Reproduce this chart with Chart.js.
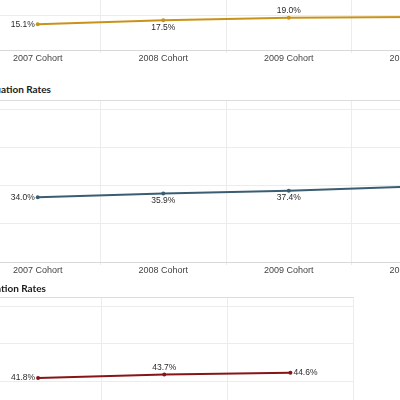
<!DOCTYPE html>
<html>
<head>
<meta charset="utf-8">
<script src="https://cdn.jsdelivr.net/npm/chart.js@4"></script>
<style>
    html, body {
        margin: 0;
        padding: 0;
        background: #ffffff;
        width: 400px;
        height: 400px;
        overflow: hidden;
        position: relative;
    }
    canvas {
        position: absolute;
    }
    .panel-title {
        position: absolute;
        transform: translate(-100%, -50%);
        white-space: nowrap;
        font: bold 10px Lato, "Liberation Sans", sans-serif;
        color: #1a1a1a;
    }
</style>
</head>
<body>
<div class="panel-title" style="left: -20px; top: -110px;">Four-Year Graduation Rates</div>
<canvas id="fourYear" width="530" height="170" style="left: -40px; top: -100px;"></canvas>

<div class="panel-title" style="left: 51px; top: 89px;">Five-Year Graduation Rates</div>
<canvas id="fiveYear" width="530" height="190" style="left: -40px; top: 95px;"></canvas>

<div class="panel-title" style="left: 46px; top: 288px;">Six-Year Graduation Rates</div>
<canvas id="sixYear" width="400" height="190" style="left: -40px; top: 292px;"></canvas>

<script>
"use strict";

//

const cohorts = ["2007 Cohort", "2008 Cohort", "2009 Cohort", "2010 Cohort"];

const fourYearRates = [15.1, 17.5, 19.0, 19.4];
const fiveYearRates = [34.0, 35.9, 37.4, 39.6];
const sixYearRates = [41.8, 43.7, 44.6];

const yTicks = [0, 20, 40, 60, 80];
const yMax = 85;

// where each value label sits relative to its point
const fourYearLabelPos = ["left", "below", "above", "above"];
const fiveYearLabelPos = ["left", "below", "below", "below"];
const sixYearLabelPos = ["left", "above", "right"];

//

const valueLabels = {
    id: "valueLabels",
    afterDatasetsDraw: (chart) => {
        const ctx = chart.ctx;
        const positions = chart.options.plugins.valueLabels.positions;
        chart.data.datasets.forEach((ds, di) => {
            const meta = chart.getDatasetMeta(di);
            meta.data.forEach((pt, i) => {
                const text = ds.data[i].toFixed(1) + "%";
                const pos = positions[i];
                ctx.save();
                ctx.font = "8.5px 'Liberation Sans', Arial, sans-serif";
                ctx.fillStyle = "#2b2b2b";
                if (pos === "left") {
                    ctx.textAlign = "right";
                    ctx.textBaseline = "middle";
                    ctx.fillText(text, pt.x - 3, pt.y);
                } else if (pos === "right") {
                    ctx.textAlign = "left";
                    ctx.textBaseline = "middle";
                    ctx.fillText(text, pt.x + 3, pt.y);
                } else if (pos === "above") {
                    ctx.textAlign = "center";
                    ctx.textBaseline = "bottom";
                    ctx.fillText(text, pt.x, pt.y - 3);
                } else {
                    ctx.textAlign = "center";
                    ctx.textBaseline = "top";
                    ctx.fillText(text, pt.x, pt.y + 3);
                }
                ctx.restore();
            });
        });
    },
};

const makeChart = (id, labels, values, color, labelPos, padding) => {
    const ctx = document.getElementById(id).getContext("2d");

    return new Chart(ctx, {
        type: "line",
        data: {
            labels: labels,
            datasets: [
                {
                    data: values,
                    borderColor: color,
                    backgroundColor: color,
                    borderWidth: 2,
                    pointRadius: 2,
                    pointBorderWidth: 0,
                    pointHoverRadius: 2,
                    tension: 0,
                },
            ],
        },
        options: {
            responsive: false,
            devicePixelRatio: 1,
            animation: false,
            layout: {
                padding: padding,
            },
            plugins: {
                legend: { display: false },
                tooltip: { enabled: false },
                valueLabels: { positions: labelPos },
            },
            scales: {
                x: {
                    type: "category",
                    offset: true,
                    grid: {
                        offset: true,
                        drawTicks: true,
                        tickLength: 3,
                        color: (c) => (c.index === labels.length ? "#dcdcdc" : "#ececec"),
                    },
                    border: {
                        color: "#d8d8d8",
                    },
                    ticks: {
                        padding: 0,
                        color: "#444444",
                        font: { family: "'Liberation Sans', Arial, sans-serif", size: 9 },
                        maxRotation: 0,
                    },
                },
                y: {
                    min: 0,
                    max: yMax,
                    afterBuildTicks: (axis) => {
                        axis.ticks = yTicks.concat([yMax]).map((v) => ({ value: v }));
                    },
                    grid: {
                        drawTicks: false,
                        color: (c) => (c.tick && c.tick.value === yMax ? "#dcdcdc" : "#ececec"),
                    },
                    border: { display: false },
                    ticks: { display: false },
                },
            },
        },
        plugins: [valueLabels],
    });
};

window.onload = () => {
    makeChart("fourYear", cohorts, fourYearRates, "#c9931a", fourYearLabelPos,
        { left: 15, right: 13, top: 5.5, bottom: 6.2 });
    makeChart("fiveYear", cohorts, fiveYearRates, "#3b5d72", fiveYearLabelPos,
        { left: 15, right: 13, top: 5, bottom: 9.2 });
    makeChart("sixYear", cohorts.slice(0, sixYearRates.length), sixYearRates, "#861516", sixYearLabelPos,
        { left: 15, right: 6.5, top: 5, bottom: 11.8 });
};
</script>
</body>
</html>
